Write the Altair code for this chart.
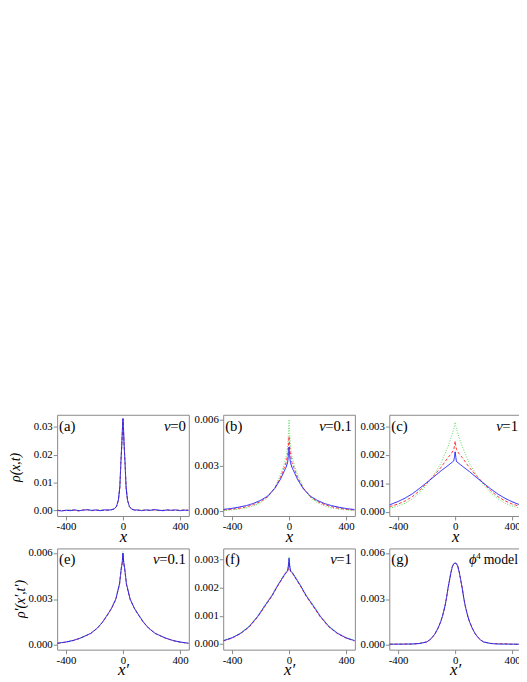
import altair as alt
import pandas as pd

FONT = "Liberation Serif, Times New Roman, Times, serif"
W = 134
H = 103
XDOM = [-462, 462]
XTICKS = [-400, 0, 400]

COL = {"green": "#5cdc5c", "red": "#ff3535", "blue": "#1c1cff"}
DASH = {"green": [1, 1.6], "red": [3, 2], "blue": [1, 0]}

# ---------- (a) nu = 0 ----------
A_X = [-460, -430, -400, -370, -340, -310, -280, -250, -220, -190, -160, -130, -100,
       -80, -60, -45, -32, -22, -14, -8, -4, 0, 4, 8, 14, 22, 32, 45, 60, 80,
       100, 130, 160, 190, 220, 250, 280, 310, 340, 370, 400, 430, 460]
A_GREEN = [0.0001, 0.0000, -0.0001, 0.0002, 0.0000, 0.0001, -0.0001, 0.0002, 0.0001, 0.0000, 0.0002, -0.0001, 0.0001,
           0.0002, 0.0005, 0.0014, 0.0036, 0.0082, 0.0176, 0.0236, 0.0286, 0.0326, 0.0286, 0.0236, 0.0176, 0.0082, 0.0036, 0.0014, 0.0005, 0.0002,
           0.0000, 0.0002, 0.0000, 0.0001, 0.0001, -0.0001, 0.0002, 0.0000, 0.0001, 0.0000, 0.0002, 0.0000, 0.0001]
A_RED = [0.0001, -0.0001, 0.0000, 0.0001, 0.0001, -0.0002, 0.0002, 0.0002, -0.0001, 0.0001, 0.0000, 0.0001, 0.0002,
         0.0002, 0.0006, 0.0014, 0.0037, 0.0083, 0.0178, 0.0238, 0.0288, 0.0328, 0.0288, 0.0236, 0.0176, 0.0083, 0.0037, 0.0014, 0.0006, 0.0002,
         0.0001, 0.0000, 0.0001, 0.0001, 0.0002, 0.0000, 0.0000, 0.0001, 0.0001, 0.0001, 0.0000, 0.0002, 0.0001]
A_BLUE = [0.0000, -0.0002, 0.0001, -0.0001, 0.0002, -0.0001, 0.0001, 0.0003, 0.0000, 0.0002, -0.0001, 0.0002, 0.0001,
          0.0003, 0.0006, 0.0015, 0.0038, 0.0085, 0.0180, 0.0240, 0.0290, 0.0330, 0.0290, 0.0235, 0.0175, 0.0082, 0.0036, 0.0014, 0.0005, 0.0001,
          0.0002, -0.0001, 0.0002, 0.0000, 0.0003, 0.0001, -0.0001, 0.0002, 0.0000, 0.0002, -0.0001, 0.0001, 0.0000]

# ---------- (b) nu = 0.1 ----------
B_X = [-460, -400, -350, -300, -250, -200, -150, -100, -60, -40, -20, -10, -5, 0,
       5, 10, 20, 40, 60, 100, 150, 200, 250, 300, 350, 400, 460]
B_GREEN = [0.00005, 0.0001, 0.00015, 0.00023, 0.00036, 0.00056, 0.0009, 0.00155, 0.0024, 0.0029, 0.0036, 0.0043, 0.0050, 0.0060,
           0.0050, 0.0043, 0.0036, 0.0029, 0.0024, 0.00155, 0.0009, 0.00056, 0.00036, 0.00023, 0.00015, 0.0001, 0.00005]
B_RED = [0.00009, 0.00014, 0.0002, 0.0003, 0.00044, 0.00064, 0.00095, 0.00152, 0.00222, 0.0027, 0.0032, 0.0037, 0.0042, 0.0049,
         0.0042, 0.0037, 0.0032, 0.0027, 0.00222, 0.00152, 0.00095, 0.00064, 0.00044, 0.0003, 0.0002, 0.00014, 0.00009]
B_BLUE = [0.00013, 0.0002, 0.00028, 0.00038, 0.00052, 0.00072, 0.0010, 0.0015, 0.0021, 0.0025, 0.0029, 0.0032, 0.0036, 0.0042,
          0.00355, 0.00318, 0.00288, 0.00248, 0.00208, 0.00148, 0.00099, 0.00071, 0.00051, 0.00037, 0.00027, 0.00019, 0.00012]

# ---------- (c) nu = 1 ----------
C_X = [-460, -400, -350, -300, -250, -200, -150, -100, -50, -25, -10, -5, 0,
       5, 10, 25, 50, 100, 150, 200, 250, 300, 350, 400, 460]
C_GREEN = [0.00012, 0.0002, 0.0003, 0.00045, 0.00066, 0.00094, 0.00128, 0.0017, 0.00228, 0.00265, 0.0029, 0.0030, 0.00314,
           0.0030, 0.0029, 0.00265, 0.00228, 0.0017, 0.00128, 0.00094, 0.00066, 0.00045, 0.0003, 0.0002, 0.00012]
C_RED = [0.00018, 0.00027, 0.00038, 0.00053, 0.00074, 0.00099, 0.00126, 0.00155, 0.0019, 0.00205, 0.00218, 0.0023, 0.00248,
         0.0023, 0.00218, 0.00205, 0.0019, 0.00155, 0.00126, 0.00099, 0.00074, 0.00053, 0.00038, 0.00027, 0.00018]
C_BLUE = [0.00024, 0.00036, 0.00048, 0.00063, 0.00082, 0.00102, 0.00122, 0.00143, 0.00162, 0.00172, 0.00178, 0.0019, 0.0021,
          0.0019, 0.00176, 0.0017, 0.0016, 0.00141, 0.0012, 0.0010, 0.0008, 0.00062, 0.00047, 0.00035, 0.00023]

# ---------- (e) nu = 0.1, rescaled ----------
E_X = [-460, -400, -350, -300, -228, -180, -143, -100, -80, -50, -24, -12, -5, 0,
       5, 12, 24, 50, 80, 100, 143, 180, 228, 300, 350, 400, 460]
E_GREEN = [0.00011, 0.00019, 0.0003, 0.00046, 0.00077, 0.00112, 0.00152, 0.00212, 0.00242, 0.00302, 0.00402, 0.00505, 0.0055, 0.0061,
           0.0055, 0.00505, 0.00402, 0.00302, 0.00242, 0.00212, 0.00152, 0.00112, 0.00077, 0.00046, 0.0003, 0.00019, 0.00011]
E_RED = [0.00011, 0.00019, 0.00029, 0.00044, 0.00074, 0.0011, 0.00148, 0.00208, 0.00238, 0.00298, 0.00398, 0.00495, 0.0053, 0.0059,
         0.0053, 0.00495, 0.00398, 0.00298, 0.00238, 0.00208, 0.00148, 0.0011, 0.00074, 0.00044, 0.00029, 0.00019, 0.00011]
E_BLUE = [0.00012, 0.0002, 0.0003, 0.00045, 0.00075, 0.0011, 0.0015, 0.0021, 0.0024, 0.0030, 0.0040, 0.0050, 0.0054, 0.0060,
          0.0054, 0.0050, 0.0040, 0.0030, 0.0024, 0.0021, 0.0015, 0.0011, 0.00075, 0.00045, 0.0003, 0.0002, 0.00012]

# ---------- (f) nu = 1, rescaled ----------
F_X = [-460, -400, -340, -280, -220, -170, -120, -80, -50, -25, -10, -4, 0,
       4, 10, 25, 50, 80, 120, 170, 220, 280, 340, 400, 460]
F_GREEN = [0.00013, 0.00023, 0.0004, 0.00064, 0.0010, 0.00139, 0.00175, 0.0021, 0.00235, 0.00255, 0.00264, 0.0029, 0.0031,
           0.0029, 0.00264, 0.00255, 0.00235, 0.0021, 0.00175, 0.00139, 0.0010, 0.00064, 0.0004, 0.00023, 0.00013]
F_RED = [0.00011, 0.00021, 0.00037, 0.0006, 0.00096, 0.00133, 0.0017, 0.00206, 0.0023, 0.0025, 0.00258, 0.00272, 0.0029,
         0.00272, 0.00258, 0.0025, 0.0023, 0.00206, 0.0017, 0.00133, 0.00096, 0.0006, 0.00037, 0.00021, 0.00011]
F_BLUE = [0.00012, 0.00022, 0.00038, 0.00062, 0.00098, 0.00136, 0.00172, 0.00208, 0.00232, 0.00252, 0.0026, 0.0028, 0.00305,
          0.0028, 0.0026, 0.00252, 0.00232, 0.00208, 0.00172, 0.00136, 0.00098, 0.00062, 0.00038, 0.00022, 0.00012]

# ---------- (g) phi^4 model ----------
G_X = [-460, -400, -350, -300, -250, -200, -180, -160, -140, -120, -100, -90, -80, -70, -60, -50, -40, -30, -20, -10, 0,
       10, 20, 30, 40, 50, 60, 70, 80, 90, 100, 120, 140, 160, 180, 200, 250, 300, 350, 400, 460]
G_GREEN = [0.00006, 0.00007, 0.00005, 0.00008, 0.0001, 0.00021, 0.00032, 0.0005, 0.00075, 0.0011, 0.00155, 0.00185, 0.0022, 0.0026, 0.0031, 0.0037, 0.0042, 0.0047, 0.0051, 0.0053, 0.00535,
           0.0053, 0.0051, 0.0047, 0.0042, 0.0037, 0.0031, 0.0026, 0.0022, 0.00185, 0.00155, 0.0011, 0.00075, 0.0005, 0.00032, 0.00021, 0.0001, 0.00008, 0.00007, 0.00005, 0.00006]
G_RED = [0.00007, 0.00005, 0.00008, 0.00006, 0.00011, 0.0002, 0.00033, 0.0005, 0.00076, 0.0011, 0.00154, 0.00184, 0.0022, 0.0026, 0.0031, 0.0037, 0.0042, 0.0047, 0.0051, 0.0053, 0.00534,
         0.0053, 0.0051, 0.0047, 0.0042, 0.0037, 0.0031, 0.0026, 0.0022, 0.00184, 0.00154, 0.0011, 0.00076, 0.0005, 0.00033, 0.0002, 0.00011, 0.00008, 0.00009, 0.00005, 0.00006]
G_BLUE = [0.00005, 0.00006, 0.00006, 0.00007, 0.0001, 0.0002, 0.00032, 0.0005, 0.00075, 0.0011, 0.00155, 0.00185, 0.0022, 0.0026, 0.0031, 0.0037, 0.0042, 0.0047, 0.0051, 0.0053, 0.00535,
          0.0053, 0.0051, 0.0047, 0.0042, 0.0037, 0.0031, 0.0026, 0.0022, 0.00185, 0.00155, 0.0011, 0.00075, 0.0005, 0.00032, 0.0002, 0.0001, 0.00007, 0.00006, 0.00006, 0.00005]


def text_layer(txt, x, y, size=15, italic=False, align="left"):
    kw = dict(font=FONT, fontSize=size, align=align, baseline="alphabetic", color="black")
    if italic:
        kw["fontStyle"] = "italic"
    return alt.Chart(pd.DataFrame({"t": [txt]})).mark_text(**kw).encode(
        text="t:N", x=alt.value(x), y=alt.value(y))


def panel(xs, green, red, blue, ydom, yticks, yfmt, tag, nu, xtitle,
          ytitle=None, ytx=-42, yty=52):
    rows = []
    for name, vals in (("green", green), ("red", red), ("blue", blue)):
        for xv, yv in zip(xs, vals):
            rows.append({"x": xv, "y": yv, "s": name})
    df = pd.DataFrame(rows)
    yaxis_kw = dict(values=yticks, format=yfmt, labelFlush=False)
    if ytitle:
        yaxis_kw.update(title=ytitle, titleFontSize=14, titleFontStyle="italic",
                        titleX=ytx, titleY=yty, titleAngle=270, titleAlign="center",
                        titleBaseline="middle")
    else:
        yaxis_kw.update(title=None)
    base = alt.Chart(df).encode(
        x=alt.X("x:Q", scale=alt.Scale(domain=XDOM, nice=False, zero=False),
                axis=alt.Axis(values=XTICKS, labelExpr="'' + datum.value", labelFlush=False,
                              title=xtitle, titleFontSize=17, titleFontStyle="italic",
                              titleX=W / 2, titleY=25.5, titleAlign="center",
                              titleBaseline="alphabetic")),
        y=alt.Y("y:Q", scale=alt.Scale(domain=ydom, nice=False, zero=False),
                axis=alt.Axis(**yaxis_kw)),
    )
    layers = []
    for name in ("green", "red", "blue"):
        layers.append(base.transform_filter(alt.datum.s == name).mark_line(
            color=COL[name], strokeDash=DASH[name], strokeWidth=1, clip=True))
    layers.append(text_layer(tag, 2, 16))
    if nu is not None:
        wid = {"=0": 16, "=0.1": 27.2, "=1": 16}[nu]
        layers.append(text_layer(nu, W - 3, 16, align="right"))
        layers.append(text_layer("ν", W - 3 - wid + 0.5, 16, italic=True, align="right"))
    else:
        layers.append(text_layer("model", W - 3, 16, size=14, align="right"))
        layers.append(text_layer("4", W - 41, 11, size=9, align="right"))
        layers.append(text_layer("ϕ", W - 45, 16, italic=True, align="right"))
    return alt.layer(*layers).properties(width=W, height=H)


pa = panel(A_X, A_GREEN, A_RED, A_BLUE, [-0.002, 0.0343], [0, 0.01, 0.02, 0.03], ".2f",
           "(a)", "=0", "x", ytitle="ρ(x,t)", ytx=-42, yty=53)
pb = panel(B_X, B_GREEN, B_RED, B_BLUE, [-0.0003, 0.0063], [0, 0.003, 0.006], ".3f",
           "(b)", "=0.1", "x")
pc = panel(C_X, C_GREEN, C_RED, C_BLUE, [-0.00015, 0.0034], [0, 0.001, 0.002, 0.003], ".3f",
           "(c)", "=1", "x")
pe = panel(E_X, E_GREEN, E_RED, E_BLUE, [-0.0003, 0.0063], [0, 0.003, 0.006], ".3f",
           "(e)", "=0.1", "x′", ytitle="ρ′(x′,t′)", ytx=-37, yty=51)
pf = panel(F_X, F_GREEN, F_RED, F_BLUE, [-0.0002, 0.0034], [0, 0.001, 0.002, 0.003], ".3f",
           "(f)", "=1", "x′")
pg = panel(G_X, G_GREEN, G_RED, G_BLUE, [-0.0003, 0.0063], [0, 0.003, 0.006], ".3f",
           "(g)", None, "x′")

chart = alt.concat(pa, pb, pc, pe, pf, pg, columns=3, bounds="flush",
                   spacing={"row": 33, "column": 35}).properties(
    padding={"left": 0, "top": 406, "right": -3, "bottom": 0},
    background="white",
).configure_axis(
    labelFont=FONT, labelFontSize=11, labelColor="black", labelPadding=1,
    tickColor="#888888", tickSize=4, tickWidth=1, domain=False, grid=False,
    titleFont=FONT, titleFontWeight="normal", titleColor="black",
).configure_view(stroke="#888888", strokeWidth=1)

chart.save("out.html", embed_options={"renderer": "svg", "actions": False})
